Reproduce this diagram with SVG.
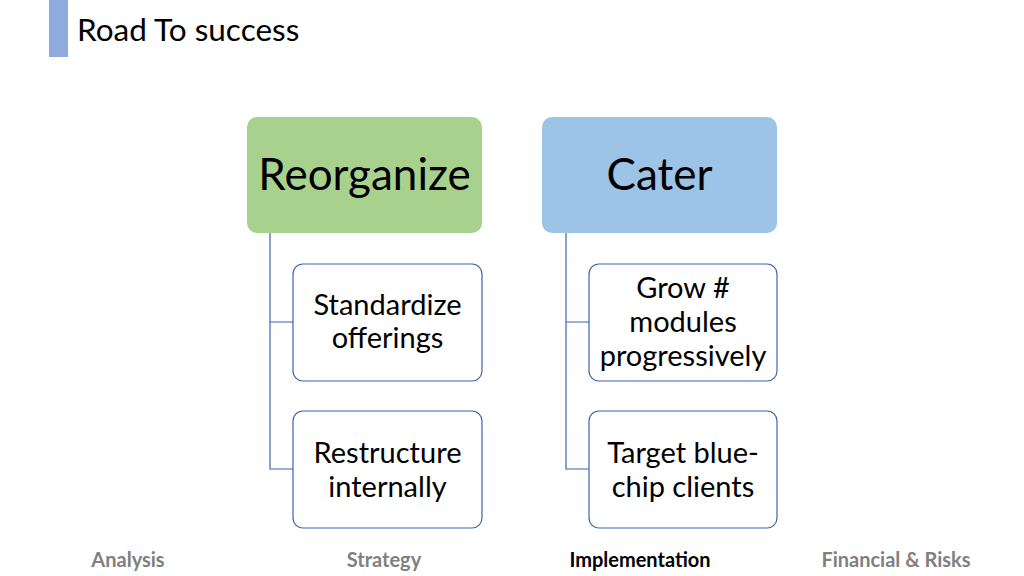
<svg xmlns="http://www.w3.org/2000/svg" width="1024" height="576" viewBox="0 0 1024 576">
<style>
.t{font-family:Lato,"Open Sans","Liberation Sans",sans-serif;fill:#000}
.big{font-size:44px;text-anchor:middle}
.sm{font-size:29px;text-anchor:middle}
.child{fill:#fff;stroke:#3B64AD;stroke-width:1.2}
.conn{stroke:#3B64AD;stroke-width:1.2;fill:none}
.foot{font-family:Lato,"Open Sans","Liberation Sans",sans-serif;font-size:20px;font-weight:bold;fill:#808080;text-anchor:middle}
</style>
<rect width="1024" height="576" fill="#fff"/>
<rect x="49" y="0" width="19" height="57" fill="#8FAADC"/>
<text class="t" x="77" y="41" font-size="31.5">Road To success</text>
<g id="connectors">
<path class="conn" d="M270 233V469H293M270 322H293"/>
<path class="conn" d="M566 233V469H589M566 322H589"/>
</g>
<g id="reorganize">
<rect x="247" y="117" width="235" height="116" rx="10" fill="#A9D18E"/>
<text class="t big" x="364.5" y="190">Reorganize</text>
</g>
<g id="cater">
<rect x="542" y="117" width="235" height="116" rx="10" fill="#9DC3E6"/>
<text class="t big" x="659.5" y="190">Cater</text>
</g>
<g id="standardize">
<rect class="child" x="293" y="264" width="189" height="117" rx="10"/>
<text class="t sm" x="387.5" y="315">Standardize</text>
<text class="t sm" x="387.5" y="348">offerings</text>
</g>
<g id="restructure">
<rect class="child" x="293" y="411" width="189" height="117" rx="10"/>
<text class="t sm" x="387.5" y="463">Restructure</text>
<text class="t sm" x="387.5" y="497">internally</text>
</g>
<g id="grow">
<rect class="child" x="589" y="264" width="188" height="117" rx="10"/>
<text class="t sm" x="683" y="298">Grow #</text>
<text class="t sm" x="683" y="332">modules</text>
<text class="t sm" x="683" y="366">progressively</text>
</g>
<g id="target">
<rect class="child" x="589" y="411" width="188" height="117" rx="10"/>
<text class="t sm" x="683" y="463">Target blue-</text>
<text class="t sm" x="683" y="497">chip clients</text>
</g>
<text class="foot" x="128" y="567">Analysis</text>
<text class="foot" x="384" y="567">Strategy</text>
<text class="foot" x="640" y="567" style="fill:#000">Implementation</text>
<text class="foot" x="896" y="567">Financial &amp; Risks</text>
</svg>
